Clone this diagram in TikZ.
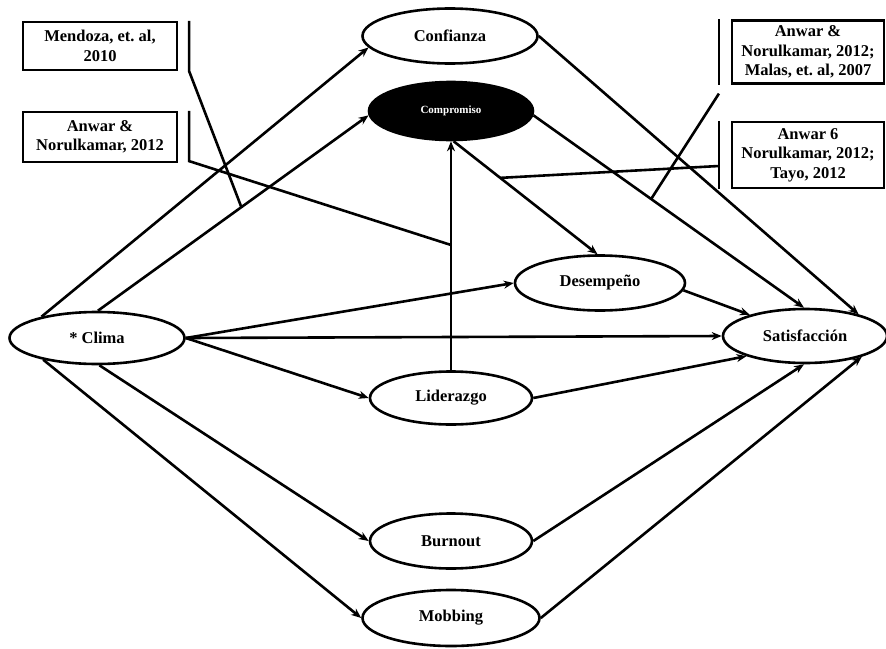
\documentclass[tikz,border=0pt]{standalone}
\usepackage{fontspec}
\setmainfont{Liberation Serif}
\usetikzlibrary{shapes.geometric,arrows.meta}
\begin{document}
\frenchspacing
\begin{tikzpicture}[x=1pt,y=-1pt,
  var/.style={ellipse,draw,line width=2.6pt,inner sep=0pt,
    font=\fontsize{16.5}{19}\selectfont\bfseries},
  refbox/.style={rectangle,draw,line width=2.2pt,inner sep=0pt,align=center,
    font=\fontsize{16.5}{19.5}\selectfont\bfseries},
  link/.style={line width=2.6pt,-{Stealth[length=10pt,width=8pt]}},
  tie/.style={line width=2.6pt}]
\useasboundingbox (0,0) rectangle (886,648);

% variables
\node[var,minimum width=175pt,minimum height=55pt] (conf) at (450,36) {Confianza};
\node[var,fill=black,text=white,minimum width=164pt,minimum height=58pt,
      font=\fontsize{11}{13}\selectfont\bfseries] (comp) at (451,111) {Compromiso};
\node[var,minimum width=170pt,minimum height=55pt] (des) at (600,283) {Desempeño};
\node[var,minimum width=164pt,minimum height=54pt] (sat) at (805,336) {Satisfacción};
\node[var,minimum width=175pt,minimum height=52pt] (clima) at (97,338) {* Clima};
\node[var,minimum width=162pt,minimum height=53pt] (lid) at (451,398) {Liderazgo};
\node[var,minimum width=162pt,minimum height=55pt] (bur) at (451,541) {Burnout};
\node[var,minimum width=177pt,minimum height=56pt] (mob) at (451,618) {Mobbing};

% references
\node[refbox,minimum width=154pt,minimum height=48pt] (b1) at (100,46) {Mendoza, et. al,\\2010};
\node[refbox,minimum width=154pt,minimum height=50pt] (b2) at (100,137) {Anwar \&\\Norulkamar, 2012};
\node[refbox,minimum width=152pt,minimum height=63pt] (b3) at (808,52) {Anwar \&\\Norulkamar, 2012;\\Malas, et. al, 2007};
\node[refbox,minimum width=152pt,minimum height=66pt] (b4) at (808,155) {Anwar 6\\Norulkamar, 2012;\\Tayo, 2012};

% paths from Clima
\draw[link] (clima.159) -- (conf.188);
\draw[link] (clima.88) -- coordinate[pos=0.53] (k1) (comp.183);
\draw[link] (clima.east) -- (des.west);
\draw[link] (clima.east) -- (sat.west);
\draw[link] (clima.east) -- (lid.west);
\draw[link] (clima.-85) -- (bur.west);
\draw[link] (clima.202) -- (mob.west);

% mediating paths
\draw[link] (lid.north) -- coordinate[pos=0.547] (k2) (comp.south);
\draw[link] (comp.-85) -- coordinate[pos=0.324] (k4) (des.95);
\draw[link] (comp.-3) -- coordinate[pos=0.435] (k3) (sat.92);

% paths into Satisfaccion
\draw[link] (conf.east) -- (sat.22);
\draw[link] (des.-5) -- (sat.159);
\draw[link] (lid.east) -- (sat.199);
\draw[link] (bur.east) -- (sat.-92);
\draw[link] (mob.east) -- (sat.-20);

% brackets tying references to paths
\draw[tie] ([xshift=11pt]b1.north east) -- ([xshift=11pt]b1.south east) -- (k1);
\draw[tie] ([xshift=11pt]b2.north east) -- ([xshift=11pt,yshift=2pt]b2.south east) -- (k2);
\draw[tie] ([xshift=-12pt]b3.north west) -- ([xshift=-12pt]b3.south west);
\draw[tie] ([xshift=-12pt,yshift=-9pt]b3.south west) -- (k3);
\draw[tie] ([xshift=-12pt]b4.north west) -- ([xshift=-12pt]b4.south west);
\draw[tie] ([xshift=-12pt,yshift=-11pt]b4.west) -- (k4);
\end{tikzpicture}
\end{document}
